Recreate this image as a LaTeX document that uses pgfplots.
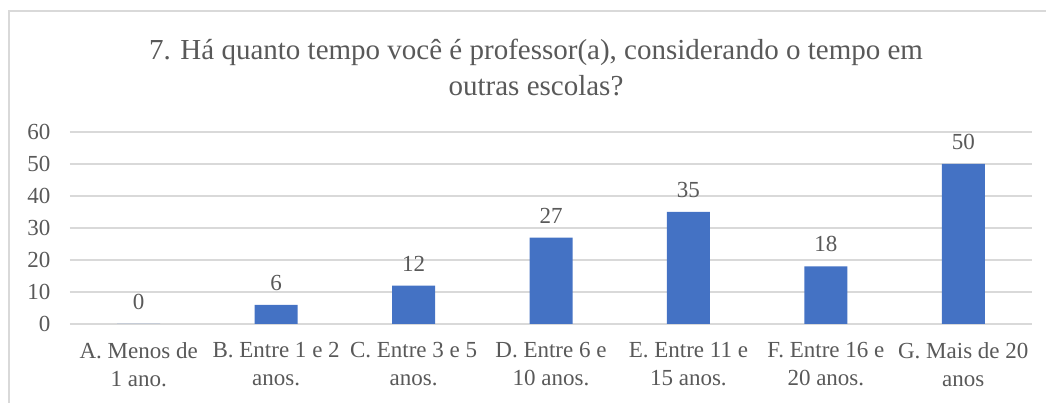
\documentclass[border=0pt]{standalone}
\usepackage{pgfplots}
\pgfplotsset{compat=1.18}
\usepackage{fontspec}
\setmainfont{Liberation Serif}
\definecolor{txt}{HTML}{595959}
\definecolor{barc}{HTML}{4472C4}
\definecolor{gridc}{HTML}{D9D9D9}
\begin{document}
\begin{tikzpicture}[x=1pt,y=1pt]
\path[use as bounding box] (-70,-79) rectangle (976,324);
\draw[gridc, line width=1.3pt] (-61,-80) -- (-61,313) -- (977,313);
\begin{axis}[
  at={(0,0)}, anchor=south west,
  scale only axis, width=962pt, height=192pt,
  xmin=-0.5, xmax=6.5, ymin=0, ymax=60,
  ytick={0,10,...,60},
  xtick={0,...,6},
  xticklabels={{A. Menos de\\1 ano.},{B. Entre 1 e 2\\anos.},{C. Entre 3 e 5\\anos.},{D. Entre 6 e\\10 anos.},{E. Entre 11 e\\15 anos.},{F. Entre 16 e\\20 anos.},{G. Mais de 20\\anos}},
  ymajorgrids, grid style={gridc, line width=1.3pt},
  axis line style={draw=none},
  major tick length=0pt,
  /pgf/number format/assume math mode=true,
  tick label style={font=\fontsize{23}{28}\selectfont, text=txt},
  xticklabel style={align=center, yshift=-15pt},
  yticklabel style={xshift=-16pt},
  ybar, bar width=43pt,
  nodes near coords,
  every node near coord/.append style={font=\fontsize{23}{28}\selectfont, text=txt, yshift=11pt},
  clip=false,
]
\addplot[fill=barc, draw=none] coordinates {(0,0) (1,6) (2,12) (3,27) (4,35) (5,18) (6,50)};
\end{axis}
\node[text=txt, font=\fontsize{29}{36}\selectfont, align=center] at (466,256) {7. Há quanto tempo você é professor(a), considerando o tempo em\\outras escolas?};
\end{tikzpicture}
\end{document}
